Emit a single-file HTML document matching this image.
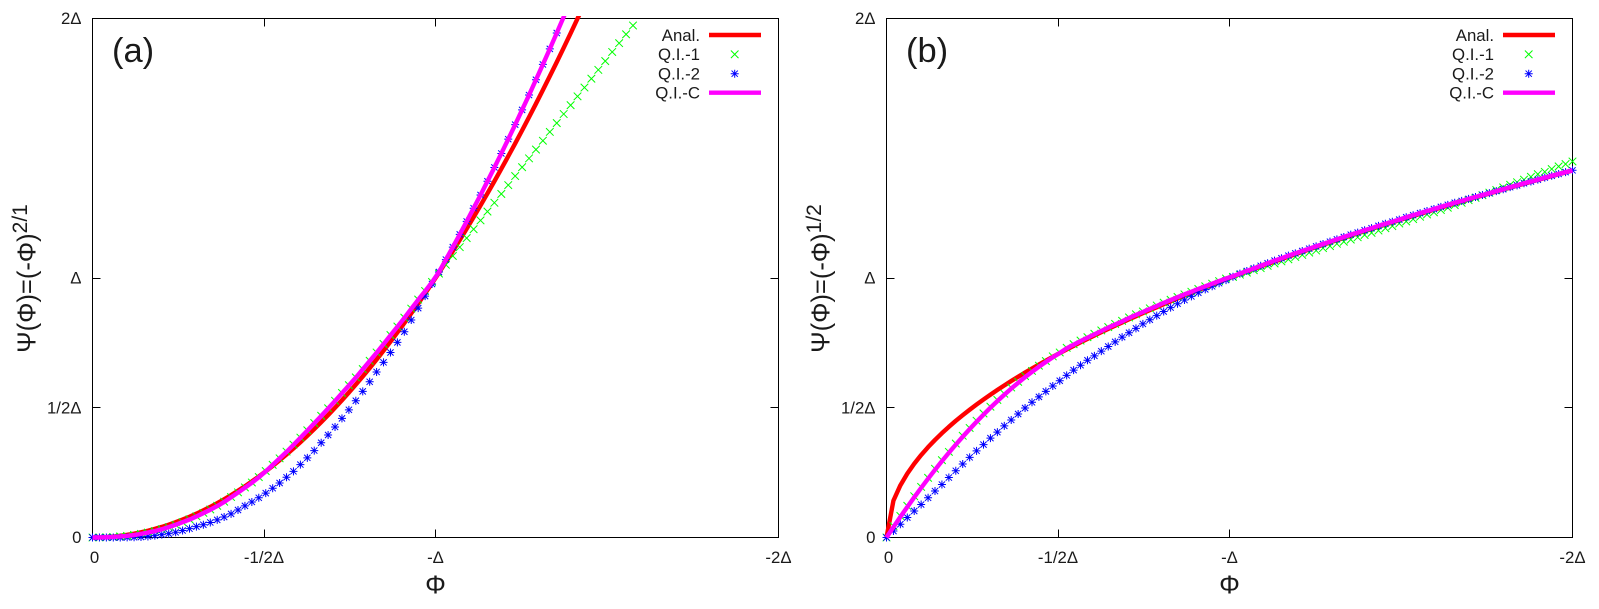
<!DOCTYPE html>
<html>
<head>
<meta charset="utf-8">
<title>Interpolation comparison</title>
<style>
html,body{margin:0;padding:0;background:#fff;}
svg{display:block;}
text{font-family:"Liberation Sans",sans-serif;fill:#1a1a1a;}
</style>
</head>
<body>
<svg id="figure" width="1599" height="609" viewBox="0 0 1599 609" xmlns="http://www.w3.org/2000/svg">
<rect width="1599" height="609" fill="#fff"/>
</svg>
<script>
const phi=[0,.0202,.0404,.0606,.0808,.1010,.1212,.1414,.1616,.1818,.2020,.2222,.2424,.2626,.2828,.3030,.3232,.3434,.3636,.3838,.4040,.4242,.4444,.4646,.4848,.5051,.5253,.5455,.5657,.5859,.6061,.6263,.6465,.6667,.6869,.7071,.7273,.7475,.7677,.7879,.8081,.8283,.8485,.8687,.8889,.9091,.9293,.9495,.9697,.9899,1.0101,1.0303,1.0505,1.0707,1.0909,1.1111,1.1313,1.1515,1.1717,1.1919,1.2121,1.2323,1.2525,1.2727,1.2929,1.3131,1.3333,1.3535,1.3737,1.3939,1.4141,1.4343,1.4545,1.4747,1.4949,1.5152,1.5354,1.5556,1.5758,1.5960,1.6162,1.6364,1.6566,1.6768,1.6970,1.7172,1.7374,1.7576,1.7778,1.7980,1.8182,1.8384,1.8586,1.8788,1.8990,1.9192,1.9394,1.9596,1.9798,2.0000];

const panelAAnalytic=[0,.0004,.0016,.0037,.0065,.0102,.0147,.0200,.0261,.0331,.0408,.0494,.0588,.0690,.0800,.0918,.1045,.1179,.1322,.1473,.1632,.1800,.1975,.2159,.2351,.2551,.2759,.2975,.3200,.3432,.3673,.3922,.4179,.4444,.4718,.4999,.5289,.5587,.5893,.6208,.6530,.6860,.7199,.7546,.7901,.8264,.8636,.9015,.9403,.9799,1.0203,1.0615,1.1036,1.1464,1.1901,1.2346,1.2799,1.3260,1.3729,1.4207,1.4692,1.5186,1.5688,1.6198,1.6717,1.7243,1.7778,1.8320,1.8871,1.9430,1.9998,2.0573,2.1157];
const panelAQI1=[0,.0002,.001,.002,.004,.006,.010,.014,.019,.025,.032,.040,.049,.059,.070,.082,.095,.108,.122,.138,.156,.174,.193,.212,.233,.256,.280,.305,.331,.358,.385,.413,.441,.469,.498,.527,.557,.587,.617,.649,.681,.713,.746,.780,.813,.847,.882,.917,.950,.985,1.017,1.051,1.085,1.119,1.154,1.188,1.222,1.256,1.290,1.324,1.358,1.393,1.427,1.461,1.495,1.529,1.563,1.597,1.632,1.666,1.700,1.734,1.768,1.802,1.836,1.871,1.905,1.939,1.973,2.007];
const panelAQI2=[0,0,0,0,0,.0003,.001,.002,.004,.007,.011,.015,.020,.027,.034,.042,.049,.058,.068,.079,.091,.106,.122,.137,.153,.171,.190,.210,.232,.255,.281,.307,.335,.365,.395,.426,.459,.492,.527,.563,.600,.638,.675,.713,.752,.793,.838,.884,.930,.977,1.023,1.071,1.119,1.168,1.218,1.269,1.320,1.373,1.426,1.480,1.535,1.591,1.648,1.705,1.764,1.823,1.883,1.944,2.006,2.069];
const panelAQIC=[0,.0002,.0010,.0022,.0040,.0062,.0095,.014,.019,.025,.032,.040,.049,.059,.069,.081,.094,.107,.121,.137,.155,.173,.192,.211,.232,.255,.280,.305,.330,.357,.384,.412,.440,.468,.497,.526,.556,.586,.616,.648,.680,.712,.745,.779,.812,.846,.881,.916,.949,.984,1.023,1.071,1.119,1.168,1.218,1.269,1.320,1.373,1.426,1.480,1.535,1.591,1.648,1.705,1.764,1.823,1.883,1.944,2.006,2.069];

const panelBAnalytic=[0,.1421,.2010,.2462,.2843,.3178,.3482,.3760,.4020,.4264,.4495,.4714,.4924,.5125,.5318,.5505,.5685,.5860,.6030,.6195,.6356,.6513,.6667,.6816,.6963,.7107,.7247,.7385,.7521,.7654,.7785,.7913,.8040,.8165,.8287,.8409,.8528,.8645,.8761,.8876,.8989,.9101,.9211,.9320,.9428,.9534,.9640,.9744,.9847,.9949,1.0050,1.0150,1.0249,1.0347,1.0444,1.0541,1.0636,1.0731,1.0824,1.0917,1.1009,1.1101,1.1191,1.1281,1.1370,1.1459,1.1547,1.1634,1.1720,1.1806,1.1891,1.1976,1.2060,1.2144,1.2227,1.2309,1.2391,1.2472,1.2553,1.2633,1.2713,1.2792,1.2870,1.2949,1.3026,1.3104,1.3181,1.3257,1.3333,1.3409,1.3484,1.3558,1.3633,1.3707,1.3780,1.3853,1.3926,1.3998,1.4070,1.4142];
const panelBQI1=[0,.044,.083,.122,.159,.195,.230,.265,.298,.330,.362,.392,.422,.450,.478,.504,.530,.554,.578,.600,.622,.642,.662,.680,.698,.713,.731,.745,.759,.772,.785,.798,.811,.823,.835,.848,.860,.871,.883,.894,.905,.916,.927,.937,.947,.958,.968,.978,.988,.998,1.004,1.013,1.021,1.030,1.038,1.047,1.056,1.064,1.072,1.081,1.089,1.098,1.106,1.115,1.123,1.132,1.140,1.148,1.157,1.166,1.174,1.183,1.192,1.200,1.210,1.218,1.227,1.236,1.245,1.253,1.262,1.271,1.281,1.290,1.300,1.309,1.319,1.329,1.339,1.349,1.359,1.369,1.379,1.390,1.400,1.409,1.420,1.430,1.439,1.449];
const panelBQI2=[0,.025,.051,.077,.102,.127,.153,.179,.204,.231,.257,.283,.309,.334,.358,.383,.406,.430,.453,.476,.499,.521,.542,.563,.584,.604,.625,.645,.664,.683,.700,.718,.736,.754,.772,.789,.806,.823,.839,.855,.871,.886,.901,.915,.929,.943,.956,.968,.980,.992,1.005,1.017,1.027,1.037,1.047,1.057,1.067,1.076,1.086,1.095,1.104,1.113,1.122,1.131,1.140,1.149,1.158,1.167,1.175,1.184,1.192,1.201,1.209,1.217,1.225,1.234,1.242,1.250,1.258,1.266,1.274,1.282,1.290,1.297,1.305,1.312,1.320,1.327,1.335,1.342,1.350,1.357,1.365,1.372,1.379,1.387,1.394,1.401,1.408,1.415];
const panelBQIC=[0,.0402,.0794,.1177,.1549,.1912,.2265,.2608,.2942,.3265,.3579,.3882,.4176,.4461,.4736,.5001,.5256,.5502,.5737,.5962,.6179,.6384,.6581,.6767,.6944,.7110,.729,.743,.757,.770,.783,.796,.809,.821,.833,.846,.858,.869,.881,.892,.904,.915,.926,.937,.947,.958,.968,.978,.988,.998,1.007,1.017,1.027,1.037,1.047,1.057,1.067,1.076,1.086,1.095,1.104,1.113,1.122,1.131,1.140,1.149,1.158,1.167,1.175,1.184,1.192,1.201,1.209,1.217,1.225,1.234,1.242,1.250,1.258,1.266,1.274,1.282,1.290,1.297,1.305,1.312,1.320,1.327,1.335,1.342,1.350,1.357,1.365,1.372,1.379,1.387,1.394,1.401,1.408,1.415];

const xTickValues=[0,0.5,1,2];
const xTickLabels=["0","-1/2Δ","-Δ","-2Δ"];
const yTickValues=[0,0.5,1,2];
const yTickLabels=["0","1/2Δ","Δ","2Δ"];
const legendLabels=["Anal.","Q.I.-1","Q.I.-2","Q.I.-C"];

const NS="http://www.w3.org/2000/svg";
const svg=document.getElementById("figure");
const RED="#ff0000",GREEN="#00ff00",BLUE="#0000ff",MAGENTA="#ff00ff";

function make(parent,tag,attrs){
  const el=document.createElementNS(NS,tag);
  for(const k in attrs){el.setAttribute(k,attrs[k]);}
  parent.appendChild(el);
  return el;
}
function xScale(p,v){return p.left+(v/p.xMax)*(p.right-p.left);}
function yScale(p,v){return p.bottom-(v/p.yMax)*(p.bottom-p.top);}
function linePath(p,vals){
  let d="";
  for(let i=0;i<vals.length;i++){
    d+=(i?"L":"M")+xScale(p,phi[i]).toFixed(2)+" "+yScale(p,vals[i]).toFixed(2);
  }
  return d;
}
function crossPath(x,y,r){
  return "M"+(x-r)+" "+(y-r)+"L"+(x+r)+" "+(y+r)+"M"+(x-r)+" "+(y+r)+"L"+(x+r)+" "+(y-r);
}
function starPath(x,y,r){
  const a=r*0.78;
  return "M"+(x-a)+" "+(y-a)+"L"+(x+a)+" "+(y+a)+"M"+(x-a)+" "+(y+a)+"L"+(x+a)+" "+(y-a)+"M"+x+" "+(y-r)+"L"+x+" "+(y+r)+"M"+(x-r)+" "+y+"L"+(x+r)+" "+y;
}
function drawMarkers(g,p,vals,pathFn,r,color,name){
  for(let i=0;i<vals.length;i++){
    if(vals[i]>p.yMax)continue;
    const m=make(g,"path",{d:pathFn(xScale(p,phi[i]),yScale(p,vals[i]),r),fill:"none",stroke:color,"stroke-width":"1"});
    
    
  }
}
function drawPanel(p){
  const g=make(svg,"g",{});
  
  

  const clipId=p.id+"-clip";
  const defs=make(g,"defs",{});
  const cp=make(defs,"clipPath",{id:clipId});
  make(cp,"rect",{x:p.left-3,y:p.top-2.5,width:p.right-p.left+6,height:p.bottom-p.top+6});

  const border=make(g,"rect",{x:p.left,y:p.top,width:p.right-p.left,height:p.bottom-p.top,fill:"none",stroke:"#000","stroke-width":"1"});
  
  

  xTickValues.forEach(function(v,i){
    const x=Math.round(xScale(p,v)-0.5)+0.5;
    const t=make(g,"path",{d:"M"+x+" "+p.bottom+"v-8M"+x+" "+p.top+"v8",stroke:"#000","stroke-width":"1",fill:"none"});
    
    
    const lab=make(g,"text",{x:xScale(p,v)+(v===0?2:0),y:p.bottom+25.5,"text-anchor":"middle","font-size":"16.8"});
    lab.textContent=xTickLabels[i];
    
    
  });
  yTickValues.forEach(function(v,i){
    const y=Math.round(yScale(p,v)-0.5)+0.5;
    const t=make(g,"path",{d:"M"+p.left+" "+y+"h8M"+p.right+" "+y+"h-8",stroke:"#000","stroke-width":"1",fill:"none"});
    
    
    const lab=make(g,"text",{x:p.left-11,y:yScale(p,v)+5.5,"text-anchor":"end","font-size":"16.8"});
    lab.textContent=yTickLabels[i];
    
    
  });

  const xt=make(g,"text",{x:(p.left+p.right)/2,y:593.5,"text-anchor":"middle","font-size":"26"});
  xt.textContent="Φ";
  
  

  const yt=make(g,"text",{transform:"translate("+(p.left-57)+",352.7) rotate(-90)",x:0,y:0,"font-size":"25.5"});
  
  
  const ts1=make(yt,"tspan",{});
  ts1.textContent="Ψ(Φ)=(-Φ)";
  const ts2=make(yt,"tspan",{dy:"-8.5","font-size":"21"});
  ts2.textContent=p.exponent;

  const letter=make(g,"text",{x:p.left+19.5,y:62,"font-size":"34.5"});
  letter.textContent=p.letter;
  
  

  const clipped=make(g,"g",{"clip-path":"url(#"+clipId+")"});
  const red=make(clipped,"path",{d:linePath(p,p.analytic),fill:"none",stroke:RED,"stroke-width":"4.4","stroke-linejoin":"round"});
  
  

  const gm=make(g,"g",{});
  
  
  drawMarkers(gm,p,p.qi1,crossPath,3.8,GREEN,'qi1-point');

  const bm=make(g,"g",{});
  
  
  drawMarkers(bm,p,p.qi2,starPath,4,BLUE,'qi2-point');

  const clipped2=make(g,"g",{"clip-path":"url(#"+clipId+")"});
  const mag=make(clipped2,"path",{d:linePath(p,p.qic),fill:"none",stroke:MAGENTA,"stroke-width":"4.4","stroke-linejoin":"round"});
  
  

  const leg=make(g,"g",{});
  
  
  const rows=[35,54.3,73.7,92.7];
  legendLabels.forEach(function(label,i){
    const t=make(leg,"text",{x:p.right-78.5,y:rows[i]+5.8,"text-anchor":"end","font-size":"16.8"});
    t.textContent=label;
    
    
  });
  const lx1=p.right-69.5,lx2=p.right-17.5,lxm=p.right-43.8;
  const l1=make(leg,"path",{d:"M"+lx1+" "+rows[0]+"H"+lx2,stroke:RED,"stroke-width":"4.4",fill:"none"});
  
  
  const l2=make(leg,"path",{d:crossPath(lxm,rows[1],3.8),stroke:GREEN,"stroke-width":"1",fill:"none"});
  
  
  const l3=make(leg,"path",{d:starPath(lxm,rows[2],4),stroke:BLUE,"stroke-width":"1",fill:"none"});
  
  
  const l4=make(leg,"path",{d:"M"+lx1+" "+rows[3]+"H"+lx2,stroke:MAGENTA,"stroke-width":"4.4",fill:"none"});
  
  
}

drawPanel({id:"panel-a",letter:"(a)",exponent:"2/1",left:92.5,right:778.5,top:18.5,bottom:537.5,xMax:2,yMax:2,analytic:panelAAnalytic,qi1:panelAQI1,qi2:panelAQI2,qic:panelAQIC});
drawPanel({id:"panel-b",letter:"(b)",exponent:"1/2",left:886.5,right:1572.5,top:18.5,bottom:537.5,xMax:2,yMax:2,analytic:panelBAnalytic,qi1:panelBQI1,qi2:panelBQI2,qic:panelBQIC});
</script>
</body>
</html>
